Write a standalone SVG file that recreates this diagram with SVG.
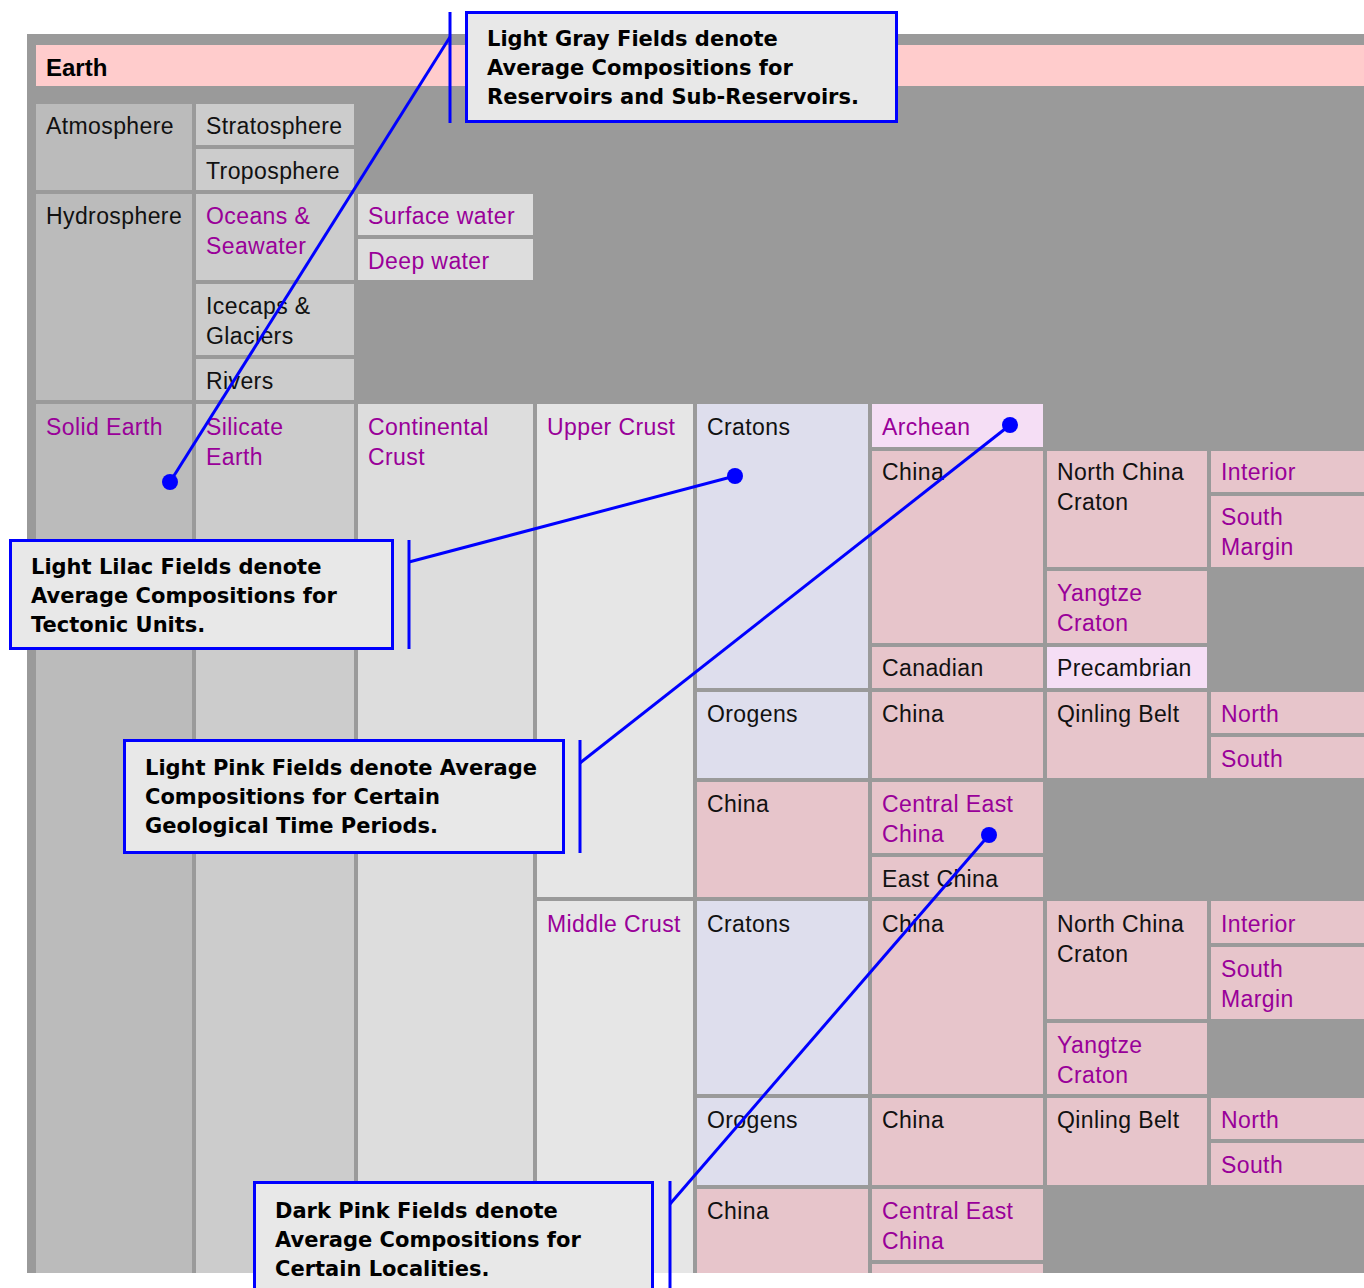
<svg xmlns="http://www.w3.org/2000/svg" width="1364" height="1288" viewBox="0 0 1364 1288">
<defs>
<style>
.g1{fill:#bbbbbb}.g2{fill:#cccccc}.g3{fill:#dddddd}.g4{fill:#e6e6e6}
.li{fill:#dedeed}.dp{fill:#e7c5cb}.lp{fill:#f5def5}
text.t{font-family:"Liberation Sans",Arial,sans-serif;font-size:23px;letter-spacing:0.4px}
.k{fill:#111111}.p{fill:#990099}
.cb{fill:#e8e8e8;stroke:#0000ff;stroke-width:3}
text.c{font-family:"DejaVu Sans",Verdana,sans-serif;font-weight:bold;font-size:21px;fill:#000}
.ld{stroke:#0000ff;stroke-width:3;fill:none}
.dot{fill:#0000ff}
</style>
<clipPath id="clip"><rect x="0" y="0" width="1364" height="1273"/></clipPath>
</defs>
<rect width="1364" height="1288" fill="#ffffff"/>
<g clip-path="url(#clip)">
<rect x="27" y="34" width="1337" height="1239" fill="#9a9a9a"/>
<g id="earth"><rect x="36" y="45" width="1328" height="41" fill="#ffcccc"/><text x="46" y="76" style="font-family:'Liberation Sans',Arial,sans-serif;font-weight:bold;font-size:24px" fill="#000">Earth</text></g>

<g id="atmosphere"><rect class="g1" x="36" y="104" width="156" height="86"/><text class="t k" x="46" y="134">Atmosphere</text></g>
<g id="stratosphere"><rect class="g2" x="196" y="104" width="158" height="41"/><text class="t k" x="206" y="134">Stratosphere</text></g>
<g id="troposphere"><rect class="g2" x="196" y="149" width="158" height="41"/><text class="t k" x="206" y="179">Troposphere</text></g>
<g id="hydrosphere"><rect class="g1" x="36" y="194" width="156" height="206"/><text class="t k" x="46" y="224">Hydrosphere</text></g>
<g id="oceans"><rect class="g2" x="196" y="194" width="158" height="86"/><text class="t p" x="206" y="224">Oceans &amp;</text><text class="t p" x="206" y="254">Seawater</text></g>
<g id="surface-water"><rect class="g3" x="358" y="194" width="175" height="41"/><text class="t p" x="368" y="224">Surface water</text></g>
<g id="deep-water"><rect class="g3" x="358" y="239" width="175" height="41"/><text class="t p" x="368" y="269">Deep water</text></g>
<g id="icecaps"><rect class="g2" x="196" y="284" width="158" height="71"/><text class="t k" x="206" y="314">Icecaps &amp;</text><text class="t k" x="206" y="344">Glaciers</text></g>
<g id="rivers"><rect class="g2" x="196" y="359" width="158" height="41"/><text class="t k" x="206" y="389">Rivers</text></g>

<g id="solid-earth"><rect class="g1" x="36" y="404" width="156" height="880"/><text class="t p" x="46" y="435">Solid Earth</text></g>
<g id="silicate-earth"><rect class="g2" x="196" y="404" width="158" height="880"/><text class="t p" x="206" y="435">Silicate</text><text class="t p" x="206" y="465">Earth</text></g>
<g id="continental-crust"><rect class="g3" x="358" y="404" width="175" height="880"/><text class="t p" x="368" y="435">Continental</text><text class="t p" x="368" y="465">Crust</text></g>
<g id="upper-crust"><rect class="g4" x="537" y="404" width="156" height="493"/><text class="t p" x="547" y="435">Upper Crust</text></g>
<g id="cratons-1"><rect class="li" x="697" y="404" width="171" height="284"/><text class="t k" x="707" y="435">Cratons</text></g>
<g id="archean"><rect class="lp" x="872" y="404" width="171" height="43"/><text class="t p" x="882" y="435">Archean</text></g>
<g id="china-1"><rect class="dp" x="872" y="451" width="171" height="192"/><text class="t k" x="882" y="480">China</text></g>
<g id="ncc-1"><rect class="dp" x="1047" y="451" width="160" height="116"/><text class="t k" x="1057" y="480">North China</text><text class="t k" x="1057" y="510">Craton</text></g>
<g id="interior-1"><rect class="dp" x="1211" y="451" width="160" height="41"/><text class="t p" x="1221" y="480">Interior</text></g>
<g id="south-margin-1"><rect class="dp" x="1211" y="496" width="160" height="71"/><text class="t p" x="1221" y="525">South</text><text class="t p" x="1221" y="555">Margin</text></g>
<g id="yangtze-1"><rect class="dp" x="1047" y="571" width="160" height="72"/><text class="t p" x="1057" y="601">Yangtze</text><text class="t p" x="1057" y="631">Craton</text></g>
<g id="canadian"><rect class="dp" x="872" y="647" width="171" height="41"/><text class="t k" x="882" y="676">Canadian</text></g>
<g id="precambrian"><rect class="lp" x="1047" y="647" width="160" height="41"/><text class="t k" x="1057" y="676">Precambrian</text></g>
<g id="orogens-1"><rect class="li" x="697" y="692" width="171" height="86"/><text class="t k" x="707" y="722">Orogens</text></g>
<g id="china-2"><rect class="dp" x="872" y="692" width="171" height="86"/><text class="t k" x="882" y="722">China</text></g>
<g id="qinling-1"><rect class="dp" x="1047" y="692" width="160" height="86"/><text class="t k" x="1057" y="722">Qinling Belt</text></g>
<g id="north-1"><rect class="dp" x="1211" y="692" width="160" height="41"/><text class="t p" x="1221" y="722">North</text></g>
<g id="south-1"><rect class="dp" x="1211" y="737" width="160" height="41"/><text class="t p" x="1221" y="767">South</text></g>
<g id="china-3"><rect class="dp" x="697" y="782" width="171" height="115"/><text class="t k" x="707" y="812">China</text></g>
<g id="central-east-china-1"><rect class="dp" x="872" y="782" width="171" height="71"/><text class="t p" x="882" y="812">Central East</text><text class="t p" x="882" y="842">China</text></g>
<g id="east-china"><rect class="dp" x="872" y="857" width="171" height="40"/><text class="t k" x="882" y="887">East China</text></g>

<g id="middle-crust"><rect class="g4" x="537" y="901" width="156" height="383"/><text class="t p" x="547" y="932">Middle Crust</text></g>
<g id="cratons-2"><rect class="li" x="697" y="901" width="171" height="193"/><text class="t k" x="707" y="932">Cratons</text></g>
<g id="china-4"><rect class="dp" x="872" y="901" width="171" height="193"/><text class="t k" x="882" y="932">China</text></g>
<g id="ncc-2"><rect class="dp" x="1047" y="901" width="160" height="118"/><text class="t k" x="1057" y="932">North China</text><text class="t k" x="1057" y="962">Craton</text></g>
<g id="interior-2"><rect class="dp" x="1211" y="901" width="160" height="42"/><text class="t p" x="1221" y="932">Interior</text></g>
<g id="south-margin-2"><rect class="dp" x="1211" y="947" width="160" height="72"/><text class="t p" x="1221" y="977">South</text><text class="t p" x="1221" y="1007">Margin</text></g>
<g id="yangtze-2"><rect class="dp" x="1047" y="1023" width="160" height="71"/><text class="t p" x="1057" y="1053">Yangtze</text><text class="t p" x="1057" y="1083">Craton</text></g>
<g id="orogens-2"><rect class="li" x="697" y="1098" width="171" height="87"/><text class="t k" x="707" y="1128">Orogens</text></g>
<g id="china-5"><rect class="dp" x="872" y="1098" width="171" height="87"/><text class="t k" x="882" y="1128">China</text></g>
<g id="qinling-2"><rect class="dp" x="1047" y="1098" width="160" height="87"/><text class="t k" x="1057" y="1128">Qinling Belt</text></g>
<g id="north-2"><rect class="dp" x="1211" y="1098" width="160" height="41"/><text class="t p" x="1221" y="1128">North</text></g>
<g id="south-2"><rect class="dp" x="1211" y="1143" width="160" height="42"/><text class="t p" x="1221" y="1173">South</text></g>
<g id="china-6"><rect class="dp" x="697" y="1189" width="171" height="95"/><text class="t k" x="707" y="1219">China</text></g>
<g id="central-east-china-2"><rect class="dp" x="872" y="1189" width="171" height="71"/><text class="t p" x="882" y="1219">Central East</text><text class="t p" x="882" y="1249">China</text></g>
<g id="cell-bottom"><rect class="dp" x="872" y="1264" width="171" height="20"/></g>
</g>

<g id="connectors">
<line class="ld" x1="450" y1="12" x2="450" y2="123"/>
<line class="ld" x1="450" y1="37" x2="170" y2="482"/>
<circle class="dot" cx="170" cy="482" r="8"/>
<line class="ld" x1="409" y1="540" x2="409" y2="649"/>
<line class="ld" x1="409" y1="562" x2="735" y2="476"/>
<circle class="dot" cx="735" cy="476" r="8"/>
<line class="ld" x1="580" y1="740" x2="580" y2="853"/>
<line class="ld" x1="580" y1="763" x2="1010" y2="425"/>
<circle class="dot" cx="1010" cy="425" r="8"/>
<line class="ld" x1="670" y1="1181" x2="670" y2="1290"/>
<line class="ld" x1="670" y1="1204" x2="989" y2="835"/>
<circle class="dot" cx="989" cy="835" r="8"/>
</g>

<g id="callout-gray"><rect class="cb" x="466.5" y="12.5" width="430" height="109"/>
<text class="c" x="487" y="46">Light Gray Fields denote</text>
<text class="c" x="487" y="75">Average Compositions for</text>
<text class="c" x="487" y="104">Reservoirs and Sub-Reservoirs.</text></g>
<g id="callout-lilac"><rect class="cb" x="10.5" y="540.5" width="382" height="108"/>
<text class="c" x="31" y="574">Light Lilac Fields denote</text>
<text class="c" x="31" y="603">Average Compositions for</text>
<text class="c" x="31" y="632">Tectonic Units.</text></g>
<g id="callout-lightpink"><rect class="cb" x="124.5" y="740.5" width="439" height="112"/>
<text class="c" x="145" y="775">Light Pink Fields denote Average</text>
<text class="c" x="145" y="804">Compositions for Certain</text>
<text class="c" x="145" y="833">Geological Time Periods.</text></g>
<g id="callout-darkpink"><rect class="cb" x="254.5" y="1182.5" width="398" height="120"/>
<text class="c" x="275" y="1218">Dark Pink Fields denote</text>
<text class="c" x="275" y="1247">Average Compositions for</text>
<text class="c" x="275" y="1276">Certain Localities.</text></g>
</svg>
